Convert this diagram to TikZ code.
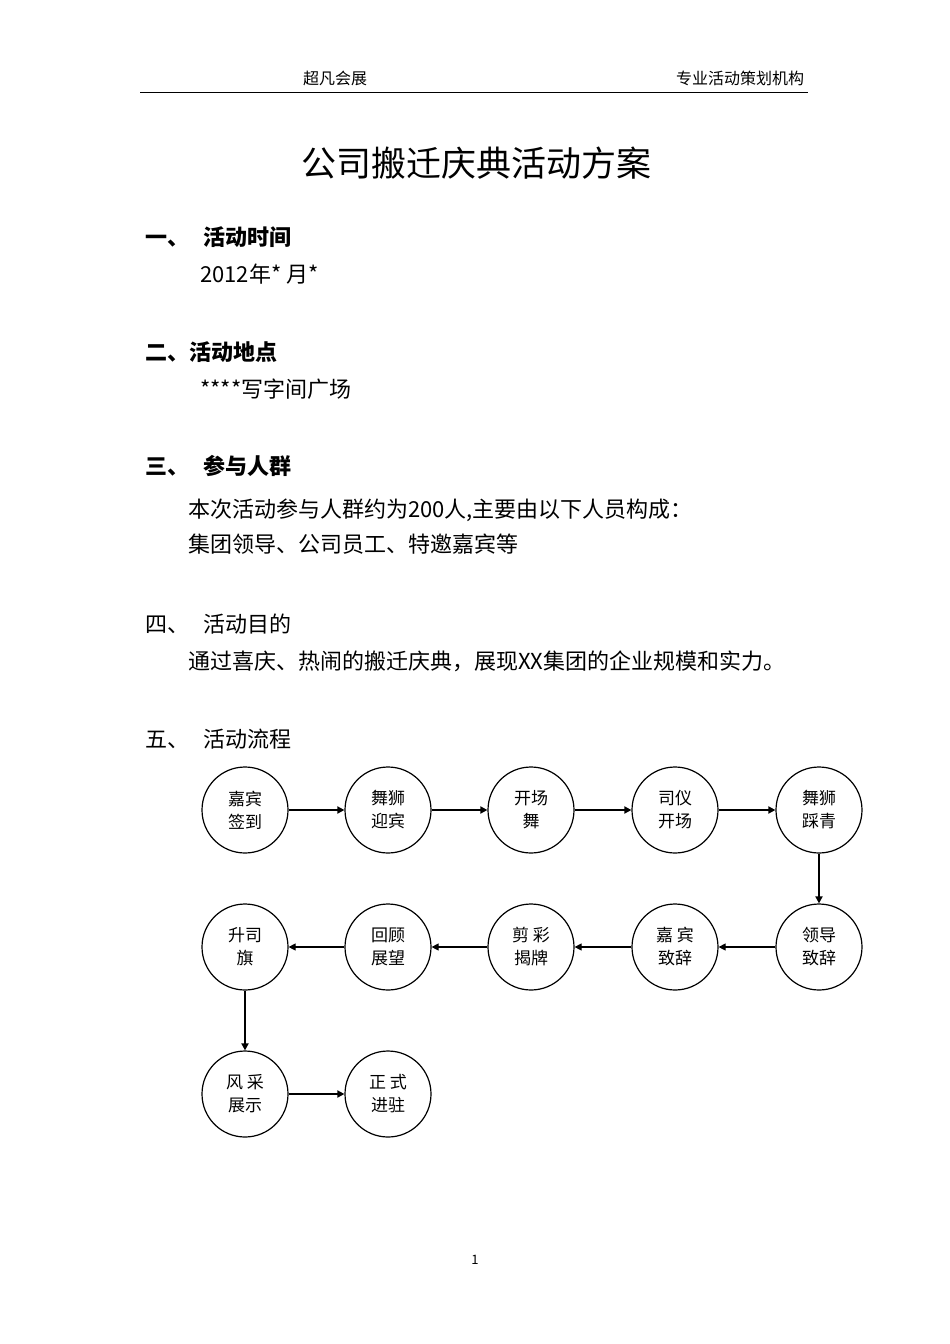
\documentclass[tikz,border=0pt]{standalone}
\usepackage{fontspec}
\setmainfont{Noto Sans CJK SC}
\usetikzlibrary{arrows.meta}
\begin{document}
\begin{tikzpicture}[x=1pt,y=-1pt,
  circ/.style={circle,draw,line width=1.2pt,minimum size=86pt,inner sep=0pt,align=center,font=\fontsize{17}{23}\selectfont},
  arr/.style={-{Triangle[length=7pt,width=7pt]},line width=2pt},
  txt/.style={anchor=west,inner sep=0pt,font=\fontsize{22}{26}\selectfont},
  bld/.style={anchor=west,inner sep=0pt,font=\fontsize{22}{26}\selectfont\bfseries}]
\useasboundingbox (0,0) rectangle (950,1344);
\node[inner sep=0pt,font=\fontsize{16}{18}\selectfont] (h1) at (335,78) {超凡会展};
\node[inner sep=0pt,font=\fontsize{16}{18}\selectfont] (h2) at (740,78) {专业活动策划机构};
\draw[line width=0.8pt] (140,92) -- (808,92);
\node[inner sep=0pt,font=\fontsize{35}{40}\selectfont] (t) at (476,163) {公司搬迁庆典活动方案};
\node[bld] (s1) at (145,237) {一、\hspace{14pt}活动时间};
\node[txt] (s1t) at (200,274) {2012年*\ 月*};
\node[bld] (s2) at (145,352) {二、活动地点};
\node[txt] (s2t) at (200,389) {****写字间广场};
\node[bld] (s3) at (145,466) {三、\hspace{14pt}参与人群};
\node[txt] (s3t) at (188,510) {本次活动参与人群约为200人,主要由以下人员构成：};
\node[txt] (s3u) at (188,544) {集团领导、公司员工、特邀嘉宾等};
\node[txt] (s4) at (145,624) {四、\hspace{14pt}活动目的};
\node[txt] (s4t) at (188,661) {通过喜庆、热闹的搬迁庆典，展现XX集团的企业规模和实力。};
\node[txt] (s5) at (145,739) {五、\hspace{14pt}活动流程};
\node[circ] (a1) at (245,810) {嘉宾\\签到};
\node[circ] (a2) at (388,810) {舞狮\\迎宾};
\node[circ] (a3) at (531,810) {开场\\舞};
\node[circ] (a4) at (675,810) {司仪\\开场};
\node[circ] (a5) at (819,810) {舞狮\\踩青};
\node[circ] (b5) at (819,947) {领导\\致辞};
\node[circ] (b4) at (675,947) {嘉 宾\\致辞};
\node[circ] (b3) at (531,947) {剪 彩\\揭牌};
\node[circ] (b2) at (388,947) {回顾\\展望};
\node[circ] (b1) at (245,947) {升司\\旗};
\node[circ] (c1) at (245,1094) {风 采\\展示};
\node[circ] (c2) at (388,1094) {正 式\\进驻};
\draw[arr] (a1) -- (a2); \draw[arr] (a2) -- (a3); \draw[arr] (a3) -- (a4); \draw[arr] (a4) -- (a5);
\draw[arr] (a5) -- (b5);
\draw[arr,line width=1.2pt] (b5) -- (b4); \draw[arr,line width=1.2pt] (b4) -- (b3); \draw[arr,line width=1.2pt] (b3) -- (b2); \draw[arr,line width=1.2pt] (b2) -- (b1);
\draw[arr] (b1) -- (c1); \draw[arr] (c1) -- (c2);
\node[inner sep=0pt,font=\fontsize{13}{15}\selectfont] (pg) at (475,1260) {1};
\end{tikzpicture}
\end{document}
